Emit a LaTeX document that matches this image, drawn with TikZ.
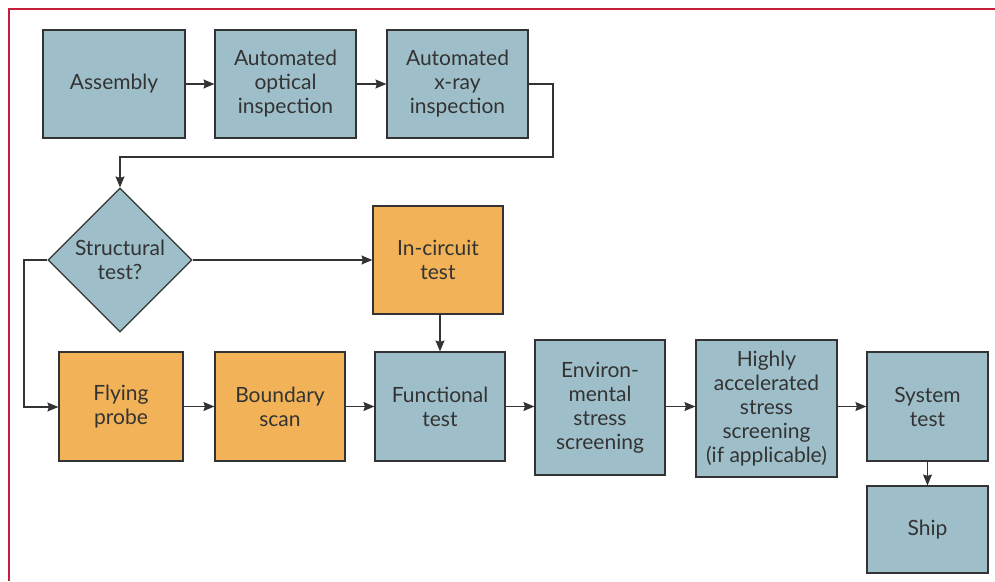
\documentclass[tikz,border=0pt]{standalone}
\usepackage{fontspec}
\setmainfont{Lato}
\usetikzlibrary{shapes.geometric,arrows.meta}
\definecolor{boxblue}{HTML}{9EBFC9}
\definecolor{boxorange}{HTML}{F2B257}
\definecolor{inkgray}{HTML}{333333}
\definecolor{framered}{HTML}{C41E3A}
\begin{document}
\begin{tikzpicture}[x=1pt,y=-1pt,
  every node/.style={font=\fontsize{21}{24}\selectfont, text=inkgray, align=center},
  bluebox/.style={draw=inkgray, line width=1.2pt, fill=boxblue, inner sep=0pt},
  orangebox/.style={draw=inkgray, line width=1.2pt, fill=boxorange, inner sep=0pt},
  flow/.style={draw=inkgray, line width=1.2pt, -{Stealth[length=11pt,width=9pt,inset=1.5pt]}},
  link/.style={draw=inkgray, line width=1.2pt}]
\useasboundingbox (0,0) rectangle (995,581);
% frame
\draw[framered, line width=2pt] (9,581) -- (9,9) -- (995,9);

% top row
\node[bluebox, minimum width=142, minimum height=108] (asm) at (114,84) {Assembly};
\node[bluebox, minimum width=141, minimum height=108] (aoi) at (285.5,84) {Automated\\optical\\inspection};
\node[bluebox, minimum width=141, minimum height=108] (axi) at (457.5,84) {Automated\\x-ray\\inspection};

% decision
\node[draw=inkgray, line width=1.2pt, fill=boxblue, diamond, aspect=1, inner sep=0pt,
      minimum width=144, minimum height=144] (dec) at (120,260) {Structural\\test?};

% in-circuit
\node[orangebox, minimum width=130, minimum height=108] (ict) at (438,260) {In-circuit\\test};

% bottom row
\node[orangebox, minimum width=124, minimum height=109] (fp) at (121,406.5) {Flying\\probe};
\node[orangebox, minimum width=130, minimum height=109] (bs) at (280,406.5) {Boundary\\scan};
\node[bluebox, minimum width=130, minimum height=109] (ft) at (440,406.5) {Functional\\test};
\node[bluebox, minimum width=130, minimum height=135] (ess) at (600,407.5) {Environ-\\mental\\stress\\screening};
\node[bluebox, minimum width=141, minimum height=137] (hass) at (766.5,408.5) {Highly\\accelerated\\stress\\screening\\(if applicable)};
\node[bluebox, minimum width=121, minimum height=109] (sys) at (927.5,406.5) {System\\test};
\node[bluebox, minimum width=121, minimum height=87] (ship) at (927.5,529.5) {Ship};

% connectors
\draw[flow] (asm) -- (aoi);
\draw[flow] (aoi) -- (axi);
\coordinate (r1) at (553,84);
\coordinate (r2) at (553,157);
\coordinate (r3) at (120,157);
\draw[flow] (axi.east) -- (r1) -- (r2) -- (r3) -- (dec.north);
\draw[flow] (dec.east) -- (ict.west);
\coordinate (l1) at (24,260);
\coordinate (l2) at (24,407);
\draw[flow] (dec.west) -- (l1) -- (l2) -- (fp.west |- l2);
\draw[flow] (fp) -- (bs);
\draw[flow] (bs) -- (ft);
\draw[flow] (ict.south -| ft.north) -- (ft.north);
\draw[flow] (ft) -- (ess.west |- ft);
\draw[flow] (ess.east |- ft) -- (hass.west |- ft);
\draw[flow] (hass.east |- ft) -- (sys.west);
\draw[flow] (sys) -- (ship);
\end{tikzpicture}
\end{document}
